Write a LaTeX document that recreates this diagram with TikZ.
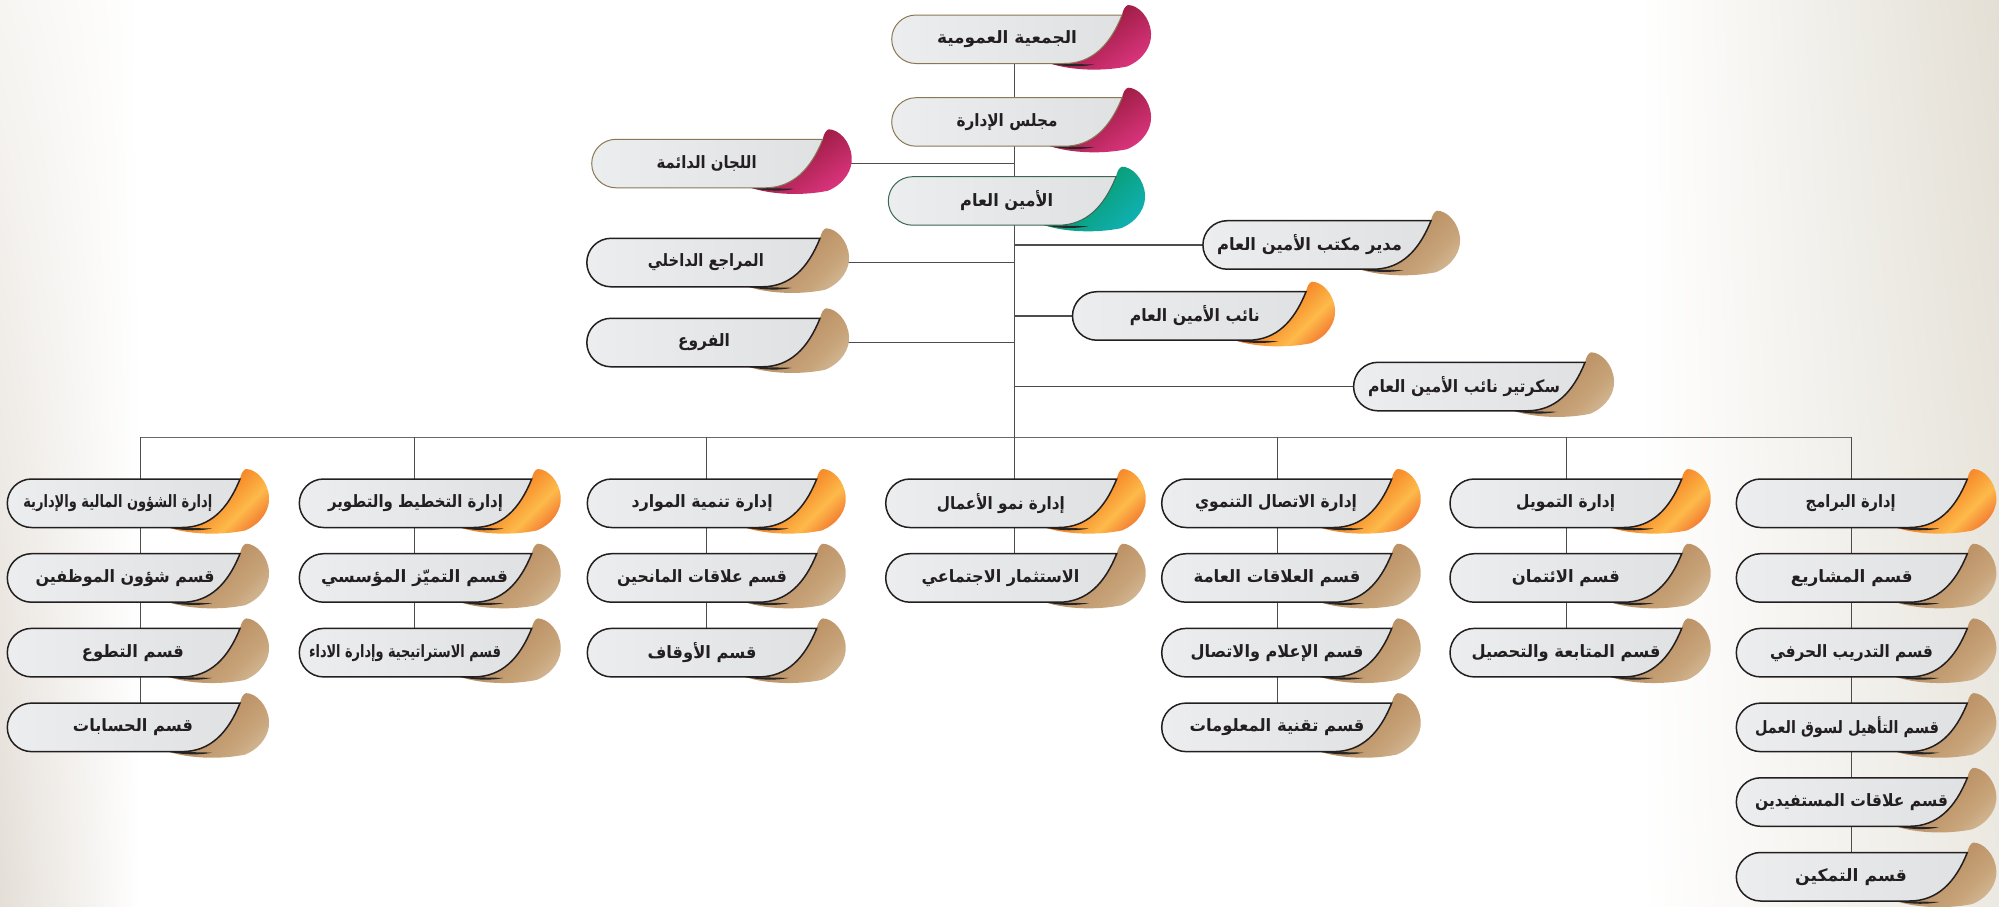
\documentclass[tikz,border=0pt]{standalone}
\usepackage{fontspec}
\usepackage{graphicx}
\newfontfamily\arabicfont[Script=Arabic]{DejaVu Sans}
\TeXXeTstate=1
\usetikzlibrary{shadings}
\pgfdeclarelayer{back}
\pgfdeclarelayer{wires}
\pgfsetlayers{back,wires,main}
\definecolor{wirec}{HTML}{4D4D4D}
\definecolor{busc}{HTML}{6A6A6A}
\definecolor{textc}{HTML}{231F20}
\definecolor{edgec}{HTML}{231F20}
\definecolor{magedge}{HTML}{8A7855}
\definecolor{tealedge}{HTML}{3D6652}
\definecolor{boxA}{HTML}{ECEDEE}
\definecolor{boxB}{HTML}{E0E1E3}
\definecolor{orgA}{HTML}{F47B20}
\definecolor{orgM}{HTML}{FDBA4A}
\definecolor{orgB}{HTML}{EE5A24}
\definecolor{tanA}{HTML}{BC9266}
\definecolor{tanM}{HTML}{C8A47A}
\definecolor{tanB}{HTML}{DBCDB2}
\definecolor{magA}{HTML}{A21F48}
\definecolor{magB}{HTML}{EA3A8C}
\definecolor{tealA}{HTML}{0A9F7A}
\definecolor{tealB}{HTML}{12B6C6}
\definecolor{bgLt}{HTML}{F7F5F2}
\definecolor{bgLb}{HTML}{E4DED7}
\definecolor{bgRt}{HTML}{E3DFD5}
\definecolor{bgRb}{HTML}{ECE9E2}
\pgfdeclarehorizontalshading{shorg}{100bp}{color(0bp)=(orgA); color(40bp)=(orgA); color(50bp)=(orgM); color(59bp)=(orgB); color(100bp)=(orgB)}
\pgfdeclarehorizontalshading{shtan}{100bp}{color(0bp)=(tanA); color(42bp)=(tanA); color(51bp)=(tanM); color(62bp)=(tanB); color(100bp)=(tanB)}
\pgfdeclarehorizontalshading{shmag}{100bp}{color(0bp)=(magA); color(42bp)=(magA); color(60bp)=(magB); color(100bp)=(magB)}
\pgfdeclarehorizontalshading{shteal}{100bp}{color(0bp)=(tealA); color(42bp)=(tealA); color(60bp)=(tealB); color(100bp)=(tealB)}
\tikzset{
  wire/.style={draw=wirec, line width=1.3pt},
  busline/.style={draw=busc, line width=1.6pt},
  txt/.style={font=\arabicfont\bfseries\fontsize{17}{19}\selectfont, text=textc, inner sep=0pt},
  curl org/.style={shading=shorg, shading angle=-45},
  curl tan/.style={shading=shtan, shading angle=-45},
  curl mag/.style={shading=shmag, shading angle=-55},
  curl teal/.style={shading=shteal, shading angle=-45},
  body org/.style={left color=boxA, right color=boxB, draw=edgec, line width=1.5pt},
  body tan/.style={left color=boxA, right color=boxB, draw=edgec, line width=1.5pt},
  body mag/.style={left color=boxA, right color=boxB, draw=magedge, line width=1pt},
  body teal/.style={left color=boxA, right color=boxB, draw=tealedge, line width=1pt},
}
\newcommand\curlpath{({\bX-72},\bB) .. controls ({\bX-50},{\bB+7}) and ({\bX-20},{\bB+8}) .. ({\bX+5},{\bB+3})
     .. controls ({\bX+22},{\bB-4}) and ({\bX+30},{\bT+30}) .. ({\bX+29},{\bT+18})
     .. controls ({\bX+28},{\bT+2}) and ({\bX+16},{\bT-10}) .. ({\bX+6},{\bT-10})
     .. controls ({\bX+3},{\bT-9}) and ({\bX+1},{\bT-5}) .. (\bX,\bT) -- cycle}
% #1 name, #2 left, #3 top, #4 x of top-right corner, #5 kind, #6 text centre x, #7 text width, #8 text
\newcommand\orgbox[8]{%
  \pgfmathsetmacro\bL{#2}\pgfmathsetmacro\bT{#3}\pgfmathsetmacro\bX{#4}\pgfmathsetmacro\bB{#3+48.5}%
  \begin{scope}
    \clip \curlpath;
    \shade[curl #5] ({\bX-78},{\bT-64}) rectangle ({\bX+98},{\bT+112});
  \end{scope}
  \fill[black!85] ({\bX-72},\bB) .. controls ({\bX-55},{\bB+3.5}) and ({\bX-40},{\bB+3.5}) .. ({\bX-28},{\bB+1}) -- cycle;
  \path[body #5] ({\bL+24.25},\bT) -- (\bX,\bT) .. controls ({\bX-12},{\bT+30}) and ({\bX-30},\bB) .. ({\bX-58},\bB)
     -- ({\bL+24.25},\bB) .. controls ({\bL+10.85},\bB) and (\bL,{\bT+37.65}) .. (\bL,{\bT+24.25})
     .. controls (\bL,{\bT+10.85}) and ({\bL+10.85},\bT) .. ({\bL+24.25},\bT) -- cycle;
  \node[txt] (#1) at (#6,{\bT+24.25}) {\resizebox{#7pt}{\height}{#8}};
}
\begin{document}
\begin{tikzpicture}[x=1pt,y=-1pt]
\useasboundingbox (0,0) rectangle (1999,906);
\begin{pgfonlayer}{back}
  \fill[white] (0,0) rectangle (1999,906);
  \shade[upper left=bgLt, lower left=bgLb, upper right=white, lower right=white] (0,0) rectangle (140,906);
  \shade[upper left=white, lower left=white, upper right=bgRt, lower right=bgRb] (1640,0) rectangle (1999,906);
\end{pgfonlayer}
% top part
\orgbox{jam}{891.7}{15}{1122}{mag}{1007}{140}{\beginR الجمعية العمومية\endR}
\orgbox{mjl}{891.7}{97.7}{1122}{mag}{1007}{101}{\beginR مجلس الإدارة\endR}
\orgbox{laj}{591.7}{139.3}{822.7}{mag}{706.7}{100}{\beginR اللجان الدائمة\endR}
\orgbox{amin}{888.3}{176.7}{1116}{teal}{1006.7}{93}{\beginR الأمين العام\endR}
\orgbox{mdr}{1202.9}{220.7}{1431}{tan}{1309.5}{185}{\beginR مدير مكتب الأمين العام\endR}
\orgbox{mrj}{586.8}{238.3}{820}{tan}{705.8}{116}{\beginR المراجع الداخلي\endR}
\orgbox{nai}{1072.5}{291.7}{1306}{org}{1194.8}{130}{\beginR نائب الأمين العام\endR}
\orgbox{fru}{586.8}{318.3}{820}{tan}{704}{52}{\beginR الفروع\endR}
\orgbox{skr}{1353.6}{362.3}{1585}{tan}{1464}{192}{\beginR سكرتير نائب الأمين العام\endR}
% column 1
\orgbox{c1a}{7.3}{479}{240}{org}{117.8}{189}{\beginR إدارة الشؤون المالية والإدارية\endR}
\orgbox{c1b}{7.3}{553.7}{240}{tan}{125}{179}{\beginR قسم شؤون الموظفين\endR}
\orgbox{c1c}{7.3}{628.4}{240}{tan}{133}{102}{\beginR قسم التطوع\endR}
\orgbox{c1d}{7.3}{703.1}{240}{tan}{133}{120}{\beginR قسم الحسابات\endR}
% column 2
\orgbox{c2a}{299.3}{479}{531.7}{org}{415.5}{175}{\beginR إدارة التخطيط والتطوير\endR}
\orgbox{c2b}{299.3}{553.7}{531.7}{tan}{414.5}{187}{\beginR قسم التميّز المؤسسي\endR}
\orgbox{c2c}{299.3}{628.4}{531.7}{tan}{405}{192}{\beginR قسم الاستراتيجية وإدارة الاداء\endR}
% column 3
\orgbox{c3a}{587.3}{479}{816.7}{org}{702.2}{141}{\beginR إدارة تنمية الموارد\endR}
\orgbox{c3b}{587.3}{553.7}{816.7}{tan}{702}{170}{\beginR قسم علاقات المانحين\endR}
\orgbox{c3c}{587.3}{628.4}{816.7}{tan}{702}{109}{\beginR قسم الأوقاف\endR}
% column 4
\orgbox{c4a}{885.7}{479}{1116.7}{org}{1000.9}{128}{\beginR إدارة نمو الأعمال\endR}
\orgbox{c4b}{885.7}{553.7}{1116.7}{tan}{1000.5}{158}{\beginR الاستثمار الاجتماعي\endR}
% column 5
\orgbox{c5a}{1161.7}{479}{1391.7}{org}{1276}{162}{\beginR إدارة الاتصال التنموي\endR}
\orgbox{c5b}{1161.7}{553.7}{1391.7}{tan}{1277}{167}{\beginR قسم العلاقات العامة\endR}
\orgbox{c5c}{1161.7}{628.4}{1391.7}{tan}{1277}{173}{\beginR قسم الإعلام والاتصال\endR}
\orgbox{c5d}{1161.7}{703.1}{1391.7}{tan}{1277}{175}{\beginR قسم تقنية المعلومات\endR}
% column 6
\orgbox{c6a}{1450}{479}{1681.7}{org}{1565.7}{99}{\beginR إدارة التمويل\endR}
\orgbox{c6b}{1450}{553.7}{1681.7}{tan}{1565.8}{108}{\beginR قسم الائتمان\endR}
\orgbox{c6c}{1450}{628.4}{1681.7}{tan}{1566}{189}{\beginR قسم المتابعة والتحصيل\endR}
% column 7
\orgbox{c7a}{1736.3}{479}{1967.3}{org}{1850.7}{90}{\beginR إدارة البرامج\endR}
\orgbox{c7b}{1736.3}{553.7}{1967.3}{tan}{1851.8}{122}{\beginR قسم المشاريع\endR}
\orgbox{c7c}{1736.3}{628.4}{1967.3}{tan}{1851.5}{163}{\beginR قسم التدريب الحرفي\endR}
\orgbox{c7d}{1736.3}{703.1}{1967.3}{tan}{1847}{184}{\beginR قسم التأهيل لسوق العمل\endR}
\orgbox{c7e}{1736.3}{777.8}{1967.3}{tan}{1851.5}{193}{\beginR قسم علاقات المستفيدين\endR}
\orgbox{c7f}{1736.3}{852.5}{1967.3}{tan}{1851}{112}{\beginR قسم التمكين\endR}
\begin{pgfonlayer}{wires}
  \coordinate (sp) at (1014.3,437.3);
  \coordinate (k1) at (140.7,437.3);
  \coordinate (k2) at (414.3,437.3);
  \coordinate (k3) at (706.7,437.3);
  \coordinate (k5) at (1277.7,437.3);
  \coordinate (k6) at (1566.7,437.3);
  \coordinate (k7) at (1851.3,437.3);
  \draw[wire] (jam -| sp) -- (mjl -| sp);
  \draw[wire] (mjl -| sp) -- (amin -| sp);
  \draw[wire] (amin -| sp) -- (sp);
  \draw[wire] (laj) -- (laj -| sp);
  \draw[wire] (mdr) -- (mdr -| sp);
  \draw[wire] (mrj) -- (mrj -| sp);
  \draw[wire] (nai) -- (nai -| sp);
  \draw[wire] (fru) -- (fru -| sp);
  \draw[wire] (skr) -- (skr -| sp);
  \draw[busline] (k1) -- (k7);
  \draw[wire] (k1) -- (c1a -| k1);
  \draw[wire] (c1a -| k1) -- (c1b -| k1);
  \draw[wire] (c1b -| k1) -- (c1c -| k1);
  \draw[wire] (c1c -| k1) -- (c1d -| k1);
  \draw[wire] (k2) -- (c2a -| k2);
  \draw[wire] (c2a -| k2) -- (c2b -| k2);
  \draw[wire] (c2b -| k2) -- (c2c -| k2);
  \draw[wire] (k3) -- (c3a -| k3);
  \draw[wire] (c3a -| k3) -- (c3b -| k3);
  \draw[wire] (c3b -| k3) -- (c3c -| k3);
  \draw[wire] (sp) -- (c4a -| sp);
  \draw[wire] (c4a -| sp) -- (c4b -| sp);
  \draw[wire] (k5) -- (c5a -| k5);
  \draw[wire] (c5a -| k5) -- (c5b -| k5);
  \draw[wire] (c5b -| k5) -- (c5c -| k5);
  \draw[wire] (c5c -| k5) -- (c5d -| k5);
  \draw[wire] (k6) -- (c6a -| k6);
  \draw[wire] (c6a -| k6) -- (c6b -| k6);
  \draw[wire] (c6b -| k6) -- (c6c -| k6);
  \draw[wire] (k7) -- (c7a -| k7);
  \draw[wire] (c7a -| k7) -- (c7b -| k7);
  \draw[wire] (c7b -| k7) -- (c7c -| k7);
  \draw[wire] (c7c -| k7) -- (c7d -| k7);
  \draw[wire] (c7d -| k7) -- (c7e -| k7);
  \draw[wire] (c7e -| k7) -- (c7f -| k7);
\end{pgfonlayer}
\end{tikzpicture}
\end{document}
